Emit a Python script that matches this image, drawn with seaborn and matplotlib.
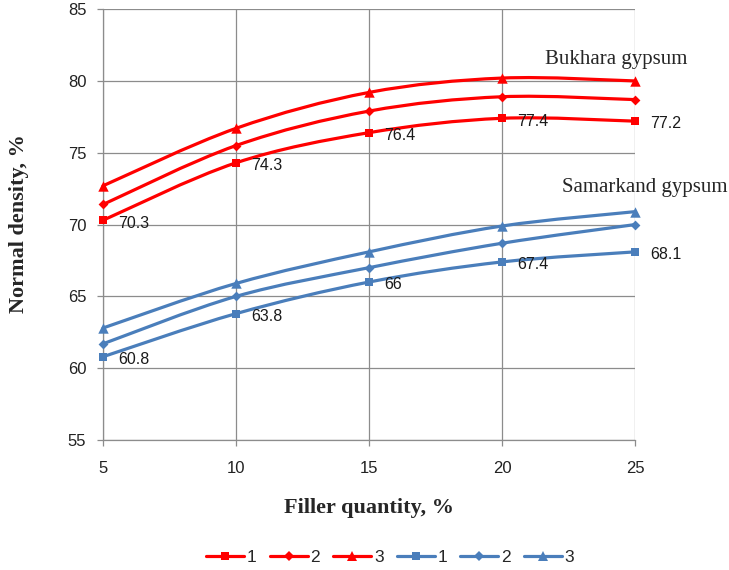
import numpy as np
import pandas as pd
import matplotlib
matplotlib.use("Agg")
import matplotlib.pyplot as plt
import seaborn as sns
from matplotlib.path import Path
from matplotlib.patches import PathPatch
from matplotlib.lines import Line2D

# Filler quantity, %
filler = [5, 10, 15, 20, 25]

# Normal density, % for three compositions of each gypsum
bukhara_1 = [70.3, 74.3, 76.4, 77.4, 77.2]
bukhara_2 = [71.4, 75.5, 77.9, 78.9, 78.7]
bukhara_3 = [72.7, 76.7, 79.2, 80.2, 80.0]
samarkand_1 = [60.8, 63.8, 66.0, 67.4, 68.1]
samarkand_2 = [61.7, 65.0, 67.0, 68.7, 70.0]
samarkand_3 = [62.8, 65.9, 68.1, 69.9, 70.9]

series_names = ["1", "2", "3"]
y_ticks = [55, 60, 65, 70, 75, 80, 85]

RED = "#FF0000"
BLUE = "#4A7EBB"
markers = {"1": "s", "2": "D", "3": "^"}
msize = {"1": 6.2, "2": 5, "3": 7.5}

rows = []
for gyp, groups in (("Bukhara", [bukhara_1, bukhara_2, bukhara_3]),
                    ("Samarkand", [samarkand_1, samarkand_2, samarkand_3])):
    for name, vals in zip(series_names, groups):
        for q, v in zip(filler, vals):
            rows.append({"filler": q, "density": v, "gypsum": gyp, "series": name})
df = pd.DataFrame(rows)

sns.set_theme(style="white")
plt.rcParams["font.family"] = ["Liberation Sans", "DejaVu Sans"]

fig = plt.figure(figsize=(7.29, 5.70), dpi=100)
ax = fig.add_axes([0.1413, 0.228, 0.7298, 0.756])


def smooth_path(xs, ys):
    """Cubic Bezier path through the points (smoothed line)."""
    pts = np.column_stack([xs, ys]).astype(float)
    n = len(pts)
    verts = [pts[0]]
    codes = [Path.MOVETO]
    for i in range(n - 1):
        p_prev = pts[max(i - 1, 0)]
        p_next = pts[min(i + 2, n - 1)]
        c1 = pts[i] + (pts[i + 1] - p_prev) / 6.0
        c2 = pts[i + 1] - (p_next - pts[i]) / 6.0
        verts += [c1, c2, pts[i + 1]]
        codes += [Path.CURVE4] * 3
    return Path(verts, codes)


palette = {"Bukhara": RED, "Samarkand": BLUE}
for (gyp, name), sub in df.groupby(["gypsum", "series"]):
    sub = sub.sort_values("filler")
    color = palette[gyp]
    ax.add_patch(PathPatch(smooth_path(sub["filler"], sub["density"]),
                           facecolor="none", edgecolor=color, lw=2.3,
                           capstyle="round", joinstyle="round", zorder=3,
                           clip_on=False))
    sns.scatterplot(data=sub, x="filler", y="density", ax=ax, color=color,
                    marker=markers[name], s=msize[name] ** 2, linewidth=0,
                    legend=False, zorder=4, clip_on=False)

# Value labels for composition 1
for vals in (bukhara_1, samarkand_1):
    for q, v in zip(filler, vals):
        ax.annotate(f"{v:g}", (q, v), xytext=(11, -2), textcoords="offset points",
                    ha="left", va="center", fontsize=11.5, color="#1a1a1a",
                    annotation_clip=False, zorder=5)

ax.text(21.6, 81.5, "Bukhara gypsum", family="Liberation Serif", fontsize=15,
        va="center", ha="left", clip_on=False)
ax.text(22.25, 72.6, "Samarkand gypsum", family="Liberation Serif", fontsize=15,
        va="center", ha="left", clip_on=False)

ax.set_xlim(5, 25)
ax.set_ylim(55, 85)
ax.set_xticks(filler)
ax.set_yticks(y_ticks)
ax.set_xlabel("")
ax.set_ylabel("")
ax.grid(True, color="#8C8C8C", lw=0.9)
for side in ("top", "right"):
    ax.spines[side].set_visible(False)
for side in ("left", "bottom"):
    ax.spines[side].set_color("#8C8C8C")
    ax.spines[side].set_linewidth(0.9)
ax.tick_params(axis="both", which="major", length=4, width=0.9, color="#8C8C8C",
               labelsize=12, labelcolor="#222222", direction="out",
               left=True, bottom=True)
ax.tick_params(axis="y", pad=8)
ax.tick_params(axis="x", pad=11)

fig.text(369 / 729, 1 - 508 / 570, "Filler quantity, %", family="Liberation Serif",
         fontweight="bold", fontsize=16, ha="center", va="center")
fig.text(19 / 729, 1 - 224 / 570, "Normal density, %", family="Liberation Serif",
         fontweight="bold", fontsize=16, ha="center", va="center", rotation=90)

handles = []
labels = []
for gyp in ("Bukhara", "Samarkand"):
    for name in series_names:
        handles.append(Line2D([], [], color=palette[gyp], lw=2.3,
                              marker=markers[name], markersize=msize[name],
                              markeredgewidth=0))
        labels.append(name)
fig.legend(handles, labels, loc="center", bbox_to_anchor=(0.535, 0.022), ncol=6,
           frameon=False, fontsize=12.5, handlelength=2.2, handletextpad=0.15,
           columnspacing=0.75)

fig.savefig("out.png", dpi=100)
